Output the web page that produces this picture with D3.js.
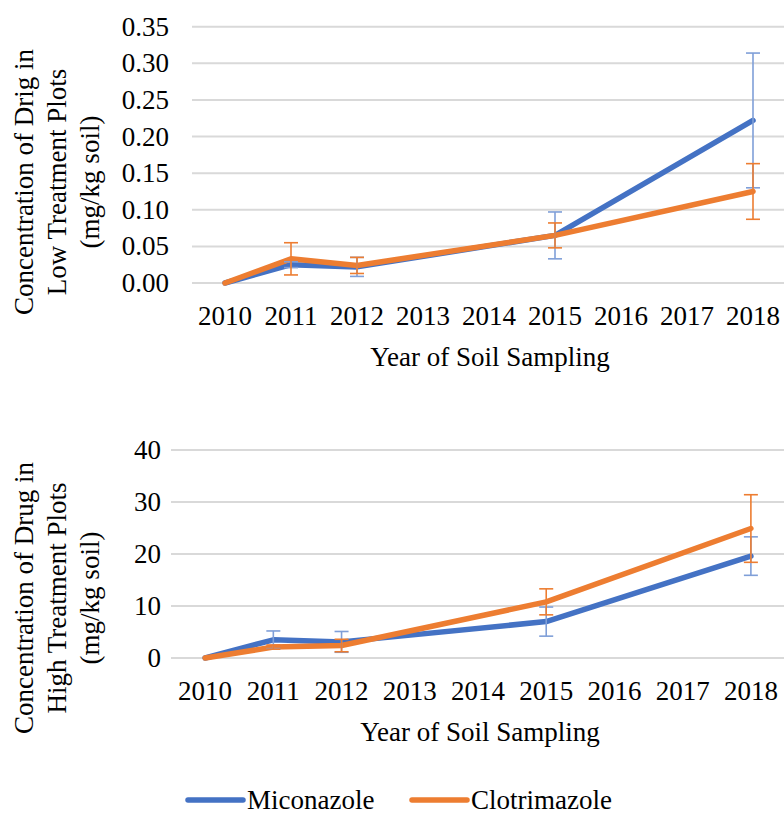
<!DOCTYPE html>
<html>
<head>
<meta charset="utf-8">
<script src="https://cdn.jsdelivr.net/npm/d3@7"></script>
<style>
  body { margin: 0; background: #fff; }
</style>
</head>
<body>
<div id="app"></div>
<script>
const WIDTH = 784
const HEIGHT = 814
const COLORS = { mic: "#4472C4", clo: "#ED7D31" }
const FONT = 27
const SERIF = "'Liberation Serif', Tinos, 'Times New Roman', 'DejaVu Serif', serif"

const years = ["2010", "2011", "2012", "2013", "2014", "2015", "2016", "2017", "2018"]
const seriesNames = ["Miconazole", "Clotrimazole"]

// low treatment plots (mg/kg soil), null = not sampled
const lowMic = [0, 0.025, 0.022, null, null, 0.065, null, null, 0.222]
const lowMicErr = [0, 0.004, 0.013, null, null, 0.032, null, null, 0.092]
const lowClo = [0, 0.033, 0.024, null, null, 0.065, null, null, 0.125]
const lowCloErr = [0, 0.022, 0.011, null, null, 0.017, null, null, 0.038]
const lowTicks = [0, 0.05, 0.10, 0.15, 0.20, 0.25, 0.30, 0.35]

// high treatment plots
const highMic = [0, 3.5, 3.1, null, null, 7.0, null, null, 19.6]
const highMicErr = [0, 1.7, 2.0, null, null, 2.8, null, null, 3.7]
const highClo = [0, 2.1, 2.4, null, null, 10.8, null, null, 24.9]
const highCloErr = [0, 0.4, 1.2, null, null, 2.5, null, null, 6.5]
const highTicks = [0, 10, 20, 30, 40]

const svg = d3.select('#app')
  .append('svg')
  .attr('width', WIDTH)
  .attr('height', HEIGHT)
  .attr('font-family', SERIF)
  .style('font-family', SERIF)

const toPoints = (vals, errs) => years
  .map((y, i) => ({ year: y, value: vals[i], err: errs[i] }))
  .filter(d => d.value !== null)

const addPanel = (cfg) => {
  const x = d3.scaleBand().domain(years).range(cfg.xRange)
  const y = d3.scaleLinear().domain(cfg.domain).range(cfg.yRange)
  const cx = d => x(d) + x.bandwidth() / 2
  const g = svg.append('g')

  // gridlines
  g.append('g')
    .selectAll('line')
    .data(cfg.ticks)
    .join('line')
    .attr('x1', cfg.xRange[0])
    .attr('x2', WIDTH)
    .attr('y1', d => y(d))
    .attr('y2', d => y(d))
    .attr('stroke', '#D9D9D9')
    .attr('stroke-width', 2)

  // y tick labels
  g.append('g')
    .selectAll('text')
    .data(cfg.ticks)
    .join('text')
    .attr('x', cfg.labelX)
    .attr('y', d => y(d) + 9)
    .attr('text-anchor', 'end')
    .attr('font-size', FONT)
    .text(cfg.fmt)

  // x tick labels
  g.append('g')
    .selectAll('text')
    .data(years)
    .join('text')
    .attr('x', d => cx(d))
    .attr('y', cfg.xLabelY)
    .attr('text-anchor', 'middle')
    .attr('font-size', FONT)
    .text(d => d)

  // x title
  g.append('text')
    .attr('x', cfg.xTitleX)
    .attr('y', cfg.xTitleY)
    .attr('text-anchor', 'middle')
    .attr('font-size', FONT)
    .text('Year of Soil Sampling')

  // y title (three lines)
  g.append('g')
    .selectAll('text')
    .data(cfg.yTitle)
    .join('text')
    .attr('transform', (d, i) => `translate(${cfg.yTitleX[i]}, ${cfg.yTitleY}) rotate(-90)`)
    .attr('text-anchor', 'middle')
    .attr('font-size', FONT)
    .text(d => d)

  const line = d3.line()
    .x(d => cx(d.year))
    .y(d => y(d.value))

  cfg.series.forEach(s => {
    const pts = toPoints(s.values, s.errs)
    g.append('path')
      .datum(pts)
      .attr('d', line)
      .attr('fill', 'none')
      .attr('stroke', s.color)
      .attr('stroke-width', 5.5)
      .attr('stroke-linejoin', 'round')
      .attr('stroke-linecap', 'round')
  })

  cfg.series.forEach(s => {
    const pts = toPoints(s.values, s.errs).filter(d => d.err > 0)
    const eb = g.append('g')
      .attr('stroke', s.barColor)
      .attr('stroke-width', 1.6)
    eb.selectAll('.v')
      .data(pts)
      .join('line')
      .attr('x1', d => cx(d.year))
      .attr('x2', d => cx(d.year))
      .attr('y1', d => y(d.value + d.err))
      .attr('y2', d => y(d.value - d.err))
    ;[1, -1].forEach(sign => {
      eb.append('g')
        .selectAll('line')
        .data(pts)
        .join('line')
        .attr('x1', d => cx(d.year) - 7)
        .attr('x2', d => cx(d.year) + 7)
        .attr('y1', d => y(d.value + sign * d.err))
        .attr('y2', d => y(d.value + sign * d.err))
    })
  })
}

addPanel({
  xRange: [192, 786],
  yRange: [283, 26.7],
  domain: [0, 0.35],
  ticks: lowTicks,
  fmt: d3.format('.2f'),
  labelX: 169,
  xLabelY: 325,
  xTitleX: 490,
  xTitleY: 366,
  yTitle: ['Concentration of Drig in', 'Low Treatment Plots', '(mg/kg soil)'],
  yTitleX: [33, 66, 99],
  yTitleY: 182,
  series: [
    { values: lowMic, errs: lowMicErr, color: COLORS.mic, barColor: '#7F9FD8' },
    { values: lowClo, errs: lowCloErr, color: COLORS.clo, barColor: COLORS.clo },
  ],
})

addPanel({
  xRange: [171, 785],
  yRange: [658, 450],
  domain: [0, 40],
  ticks: highTicks,
  fmt: d3.format('d'),
  labelX: 161,
  xLabelY: 700,
  xTitleX: 480,
  xTitleY: 741,
  yTitle: ['Concentration of Drug in', 'High Treatment Plots', '(mg/kg soil)'],
  yTitleX: [33, 66, 99],
  yTitleY: 598,
  series: [
    { values: highMic, errs: highMicErr, color: COLORS.mic, barColor: '#7F9FD8' },
    { values: highClo, errs: highCloErr, color: COLORS.clo, barColor: COLORS.clo },
  ],
})

// legend
const legendX = [188, 412]
const legend = svg.append('g')
  .selectAll('g')
  .data(seriesNames)
  .join('g')
  .attr('transform', (d, i) => `translate(${legendX[i]}, 800)`)
legend.append('line')
  .attr('x1', 0)
  .attr('x2', 55)
  .attr('stroke', (d, i) => i === 0 ? COLORS.mic : COLORS.clo)
  .attr('stroke-width', 5.5)
  .attr('stroke-linecap', 'round')
legend.append('text')
  .attr('x', 59)
  .attr('y', 9)
  .attr('font-size', FONT)
  .text(d => d)
</script>
</body>
</html>
